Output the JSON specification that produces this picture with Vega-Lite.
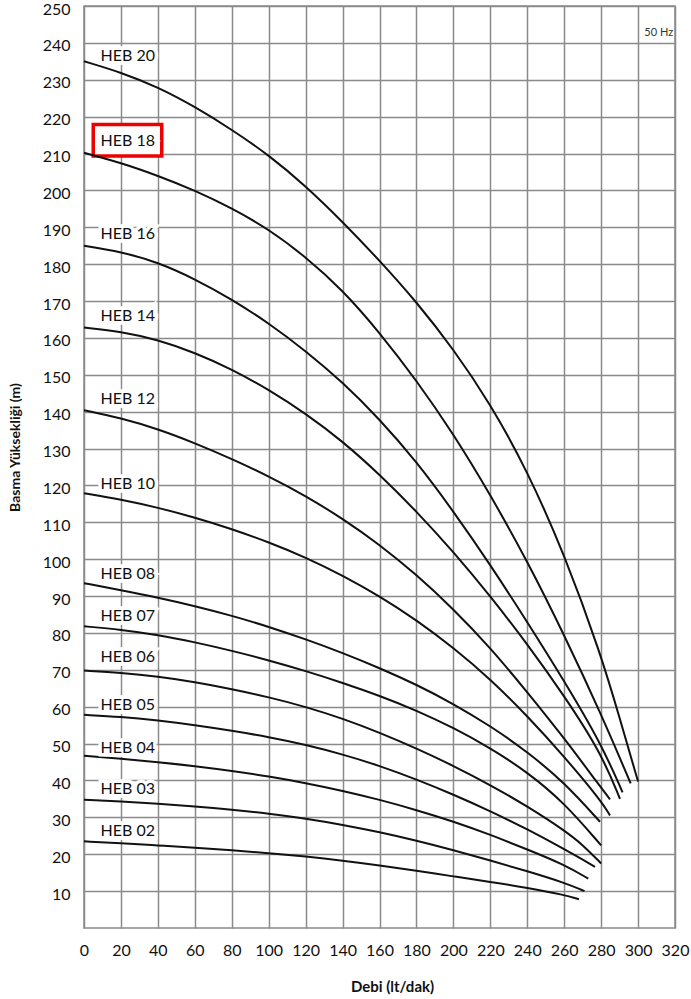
{
  "$schema": "https://vega.github.io/schema/vega-lite/v6.json",
  "width": 591,
  "height": 922,
  "autosize": "none",
  "padding": {"left": 84, "top": 6, "right": 16, "bottom": 71},
  "background": "white",
  "config": {
    "view": {"stroke": "#8a8a8a", "strokeWidth": 1.5},
    "font": "Lato"
  },
  "datasets": {
    "curves": [
      {"m":"HEB 20","q":0,"h":235},{"m":"HEB 20","q":20,"h":232},{"m":"HEB 20","q":40,"h":228},{"m":"HEB 20","q":60,"h":222.7},{"m":"HEB 20","q":80,"h":216.5},{"m":"HEB 20","q":100,"h":209.6},{"m":"HEB 20","q":120,"h":201.2},{"m":"HEB 20","q":140,"h":191.5},{"m":"HEB 20","q":160,"h":181},{"m":"HEB 20","q":180,"h":169.8},{"m":"HEB 20","q":200,"h":157},{"m":"HEB 20","q":220,"h":142.2},{"m":"HEB 20","q":240,"h":124},{"m":"HEB 20","q":260,"h":101.5},{"m":"HEB 20","q":280,"h":74},{"m":"HEB 20","q":290,"h":57},{"m":"HEB 20","q":300,"h":39.7},
      {"m":"HEB 18","q":0,"h":210.2},{"m":"HEB 18","q":20,"h":207.5},{"m":"HEB 18","q":40,"h":204},{"m":"HEB 18","q":60,"h":200},{"m":"HEB 18","q":80,"h":195.2},{"m":"HEB 18","q":100,"h":189.5},{"m":"HEB 18","q":120,"h":182},{"m":"HEB 18","q":140,"h":173},{"m":"HEB 18","q":160,"h":161.5},{"m":"HEB 18","q":180,"h":148.5},{"m":"HEB 18","q":200,"h":134},{"m":"HEB 18","q":220,"h":117.5},{"m":"HEB 18","q":240,"h":99.5},{"m":"HEB 18","q":260,"h":79.5},{"m":"HEB 18","q":280,"h":58},{"m":"HEB 18","q":296,"h":39.2},
      {"m":"HEB 16","q":0,"h":185},{"m":"HEB 16","q":20,"h":183.4},{"m":"HEB 16","q":40,"h":180.5},{"m":"HEB 16","q":60,"h":176},{"m":"HEB 16","q":80,"h":170.5},{"m":"HEB 16","q":100,"h":164},{"m":"HEB 16","q":120,"h":156.5},{"m":"HEB 16","q":140,"h":148},{"m":"HEB 16","q":160,"h":138},{"m":"HEB 16","q":180,"h":126.5},{"m":"HEB 16","q":200,"h":113},{"m":"HEB 16","q":220,"h":98.5},{"m":"HEB 16","q":240,"h":83},{"m":"HEB 16","q":260,"h":67},{"m":"HEB 16","q":280,"h":50},{"m":"HEB 16","q":291.6,"h":36.8},
      {"m":"HEB 14","q":0,"h":162.8},{"m":"HEB 14","q":20,"h":161.7},{"m":"HEB 14","q":40,"h":159.5},{"m":"HEB 14","q":60,"h":156},{"m":"HEB 14","q":80,"h":151.5},{"m":"HEB 14","q":100,"h":146},{"m":"HEB 14","q":120,"h":139.5},{"m":"HEB 14","q":140,"h":132},{"m":"HEB 14","q":160,"h":123},{"m":"HEB 14","q":180,"h":113},{"m":"HEB 14","q":200,"h":102},{"m":"HEB 14","q":220,"h":90},{"m":"HEB 14","q":240,"h":77},{"m":"HEB 14","q":260,"h":63},{"m":"HEB 14","q":280,"h":47.5},{"m":"HEB 14","q":290.2,"h":35},
      {"m":"HEB 12","q":0,"h":140.4},{"m":"HEB 12","q":20,"h":138.3},{"m":"HEB 12","q":40,"h":135.3},{"m":"HEB 12","q":60,"h":131.5},{"m":"HEB 12","q":80,"h":127.2},{"m":"HEB 12","q":100,"h":122.5},{"m":"HEB 12","q":120,"h":117.2},{"m":"HEB 12","q":140,"h":111},{"m":"HEB 12","q":160,"h":104},{"m":"HEB 12","q":180,"h":95.8},{"m":"HEB 12","q":200,"h":86.5},{"m":"HEB 12","q":220,"h":76},{"m":"HEB 12","q":240,"h":64},{"m":"HEB 12","q":260,"h":51.5},{"m":"HEB 12","q":280,"h":38},{"m":"HEB 12","q":284.8,"h":34.9},
      {"m":"HEB 10","q":0,"h":117.9},{"m":"HEB 10","q":20,"h":116.2},{"m":"HEB 10","q":40,"h":114},{"m":"HEB 10","q":60,"h":111.3},{"m":"HEB 10","q":80,"h":108.2},{"m":"HEB 10","q":100,"h":104.6},{"m":"HEB 10","q":120,"h":100.5},{"m":"HEB 10","q":140,"h":95.6},{"m":"HEB 10","q":160,"h":90},{"m":"HEB 10","q":180,"h":83.5},{"m":"HEB 10","q":200,"h":76},{"m":"HEB 10","q":220,"h":67.5},{"m":"HEB 10","q":240,"h":57.5},{"m":"HEB 10","q":260,"h":46.5},{"m":"HEB 10","q":280,"h":34.5},{"m":"HEB 10","q":284.8,"h":30.5},
      {"m":"HEB 08","q":0,"h":93.5},{"m":"HEB 08","q":20,"h":91.6},{"m":"HEB 08","q":40,"h":89.6},{"m":"HEB 08","q":60,"h":87.3},{"m":"HEB 08","q":80,"h":84.7},{"m":"HEB 08","q":100,"h":81.7},{"m":"HEB 08","q":120,"h":78.3},{"m":"HEB 08","q":140,"h":74.6},{"m":"HEB 08","q":160,"h":70.5},{"m":"HEB 08","q":180,"h":66},{"m":"HEB 08","q":200,"h":60.8},{"m":"HEB 08","q":220,"h":54.8},{"m":"HEB 08","q":240,"h":47.8},{"m":"HEB 08","q":260,"h":39.5},{"m":"HEB 08","q":279.4,"h":28.8},
      {"m":"HEB 07","q":0,"h":81.8},{"m":"HEB 07","q":20,"h":80.9},{"m":"HEB 07","q":40,"h":79.5},{"m":"HEB 07","q":60,"h":77.5},{"m":"HEB 07","q":80,"h":75.2},{"m":"HEB 07","q":100,"h":72.6},{"m":"HEB 07","q":120,"h":69.7},{"m":"HEB 07","q":140,"h":66.5},{"m":"HEB 07","q":160,"h":63},{"m":"HEB 07","q":180,"h":59},{"m":"HEB 07","q":200,"h":54.3},{"m":"HEB 07","q":220,"h":48.8},{"m":"HEB 07","q":240,"h":42.3},{"m":"HEB 07","q":260,"h":34},{"m":"HEB 07","q":280,"h":22.4},
      {"m":"HEB 06","q":0,"h":69.8},{"m":"HEB 06","q":20,"h":69.2},{"m":"HEB 06","q":40,"h":68.2},{"m":"HEB 06","q":60,"h":66.7},{"m":"HEB 06","q":80,"h":64.8},{"m":"HEB 06","q":100,"h":62.6},{"m":"HEB 06","q":120,"h":60},{"m":"HEB 06","q":140,"h":56.8},{"m":"HEB 06","q":160,"h":53},{"m":"HEB 06","q":180,"h":48.7},{"m":"HEB 06","q":200,"h":44},{"m":"HEB 06","q":220,"h":38.8},{"m":"HEB 06","q":240,"h":33},{"m":"HEB 06","q":260,"h":26.5},{"m":"HEB 06","q":270,"h":22.6},{"m":"HEB 06","q":280,"h":17.5},
      {"m":"HEB 05","q":0,"h":57.8},{"m":"HEB 05","q":20,"h":57.3},{"m":"HEB 05","q":40,"h":56.3},{"m":"HEB 05","q":60,"h":55},{"m":"HEB 05","q":80,"h":53.5},{"m":"HEB 05","q":100,"h":51.8},{"m":"HEB 05","q":120,"h":49.7},{"m":"HEB 05","q":140,"h":47.1},{"m":"HEB 05","q":160,"h":44},{"m":"HEB 05","q":180,"h":40.3},{"m":"HEB 05","q":200,"h":36.2},{"m":"HEB 05","q":220,"h":31.7},{"m":"HEB 05","q":240,"h":26.8},{"m":"HEB 05","q":260,"h":21.4},{"m":"HEB 05","q":276.7,"h":16.6},
      {"m":"HEB 04","q":0,"h":46.7},{"m":"HEB 04","q":20,"h":45.9},{"m":"HEB 04","q":40,"h":45},{"m":"HEB 04","q":60,"h":43.9},{"m":"HEB 04","q":80,"h":42.6},{"m":"HEB 04","q":100,"h":41.1},{"m":"HEB 04","q":120,"h":39.3},{"m":"HEB 04","q":140,"h":37.2},{"m":"HEB 04","q":160,"h":34.8},{"m":"HEB 04","q":180,"h":32},{"m":"HEB 04","q":200,"h":28.9},{"m":"HEB 04","q":220,"h":25.3},{"m":"HEB 04","q":240,"h":21.3},{"m":"HEB 04","q":260,"h":17.2},{"m":"HEB 04","q":273,"h":13.4},
      {"m":"HEB 03","q":0,"h":34.8},{"m":"HEB 03","q":20,"h":34.3},{"m":"HEB 03","q":40,"h":33.7},{"m":"HEB 03","q":60,"h":33},{"m":"HEB 03","q":80,"h":32.1},{"m":"HEB 03","q":100,"h":31},{"m":"HEB 03","q":120,"h":29.7},{"m":"HEB 03","q":140,"h":28},{"m":"HEB 03","q":160,"h":26},{"m":"HEB 03","q":180,"h":23.7},{"m":"HEB 03","q":200,"h":21.1},{"m":"HEB 03","q":220,"h":18.3},{"m":"HEB 03","q":240,"h":15.4},{"m":"HEB 03","q":260,"h":12.3},{"m":"HEB 03","q":271,"h":10},
      {"m":"HEB 02","q":0,"h":23.5},{"m":"HEB 02","q":20,"h":23},{"m":"HEB 02","q":40,"h":22.4},{"m":"HEB 02","q":60,"h":21.8},{"m":"HEB 02","q":80,"h":21.1},{"m":"HEB 02","q":100,"h":20.3},{"m":"HEB 02","q":120,"h":19.4},{"m":"HEB 02","q":140,"h":18.3},{"m":"HEB 02","q":160,"h":17},{"m":"HEB 02","q":180,"h":15.5},{"m":"HEB 02","q":200,"h":14},{"m":"HEB 02","q":220,"h":12.5},{"m":"HEB 02","q":240,"h":10.9},{"m":"HEB 02","q":260,"h":9},{"m":"HEB 02","q":268,"h":7.8}
    ],
    "labels": [
      {"m":"HEB 20","q":9,"h":236.4},
      {"m":"HEB 18","q":9,"h":213.4},
      {"m":"HEB 16","q":9,"h":188.2},
      {"m":"HEB 14","q":9,"h":166},
      {"m":"HEB 12","q":9,"h":143.4},
      {"m":"HEB 10","q":9,"h":120.4},
      {"m":"HEB 08","q":9,"h":96},
      {"m":"HEB 07","q":9,"h":84.6},
      {"m":"HEB 06","q":9,"h":73.4},
      {"m":"HEB 05","q":9,"h":60.5},
      {"m":"HEB 04","q":9,"h":48.9},
      {"m":"HEB 03","q":9,"h":37.7},
      {"m":"HEB 02","q":9,"h":26.3}
    ],
    "box": [{"q":5,"q2":42.1,"h":209.3,"h2":217.9}],
    "hz": [{"t":"50 Hz","q":319,"h":242.7}]
  },
  "encoding": {
    "x": {"field": "q", "type": "quantitative", "scale": {"domain": [0, 320], "nice": false, "zero": false},
      "axis": {"values": [0,20,40,60,80,100,120,140,160,180,200,220,240,260,280,300,320], "grid": true, "gridColor": "#8a8a8a", "gridWidth": 1.5, "gridOpacity": 1, "ticks": false, "domain": false, "labelOverlap": false, "labelFont": "Lato", "labelFontSize": 16, "labelColor": "#111111", "labelPadding": 14, "labelDx": -3, "labelFlush": false, "title": "Debi (lt/dak)", "titleFont": "Lato", "titleFontSize": 15, "titleFontWeight": "bold", "titleColor": "#111111", "titleX": 308, "titleY": 58, "titleBaseline": "middle"}},
    "y": {"field": "h", "type": "quantitative", "scale": {"domain": [0, 250], "nice": false, "zero": false},
      "axis": {"values": [10,20,30,40,50,60,70,80,90,100,110,120,130,140,150,160,170,180,190,200,210,220,230,240,250], "grid": true, "gridColor": "#8a8a8a", "gridWidth": 1.5, "gridOpacity": 1, "ticks": false, "domain": false, "labelOverlap": false, "labelFont": "Lato", "labelFontSize": 16, "labelColor": "#111111", "labelPadding": 14, "labelOffset": 3, "labelFlush": false, "title": "Basma Yüksekliği (m)", "titleFont": "Lato", "titleFontSize": 14, "titleFontWeight": "bold", "titleColor": "#111111", "titleX": -69, "titleY": 441, "titleBaseline": "middle", "titleAngle": 270}}
  },
  "layer": [
    {
      "data": {"name": "box"},
      "mark": {"type": "rect", "fill": "white", "stroke": "#ee0000", "strokeWidth": 3.5},
      "encoding": {
        "x2": {"field": "q2"},
        "y2": {"field": "h2"}
      }
    },
    {
      "data": {"name": "curves"},
      "mark": {"type": "line", "color": "#111111", "strokeWidth": 2, "interpolate": "basis"},
      "encoding": {
        "detail": {"field": "m", "type": "nominal"}
      }
    },
    {
      "data": {"name": "labels"},
      "mark": {"type": "text", "align": "left", "baseline": "middle", "font": "Lato", "fontSize": 16, "stroke": "white", "strokeWidth": 7, "fill": "white"},
      "encoding": {
        "text": {"field": "m"}
      }
    },
    {
      "data": {"name": "labels"},
      "mark": {"type": "text", "align": "left", "baseline": "middle", "font": "Lato", "fontSize": 16, "color": "#111111"},
      "encoding": {
        "text": {"field": "m"}
      }
    },
    {
      "data": {"name": "hz"},
      "mark": {"type": "text", "align": "right", "baseline": "middle", "font": "Lato", "fontSize": 11, "color": "#333333"},
      "encoding": {
        "text": {"field": "t"}
      }
    }
  ]
}
